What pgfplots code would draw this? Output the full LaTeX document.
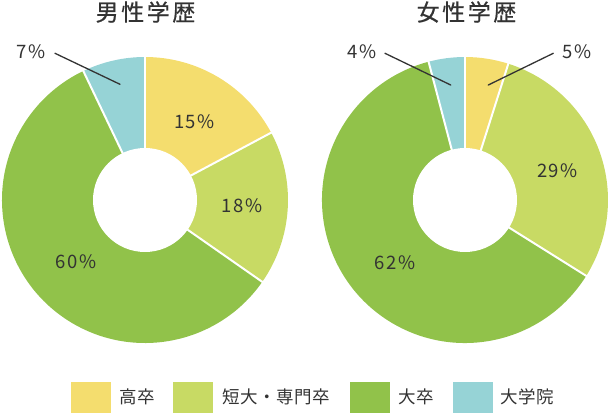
\documentclass[border=0pt]{standalone}
\usepackage{pgfplots}
\usepackage{pgfplotstable}
\pgfplotsset{compat=1.18}
\usepackage{fontspec}
\setmainfont{Noto Sans CJK JP}
\newfontfamily\titlefont{Noto Sans CJK JP}[FakeBold=0.6,LetterSpace=11]
\newfontfamily\numfont{Noto Sans CJK JP}[LetterSpace=7]
\newfontfamily\legfont{Noto Sans CJK JP}[LetterSpace=3]
\definecolor{slice0}{RGB}{244,221,110}
\definecolor{slice1}{RGB}{200,218,100}
\definecolor{slice2}{RGB}{145,194,74}
\definecolor{slice3}{RGB}{150,211,214}
\definecolor{txt}{RGB}{51,51,51}

% shares as drawn (angle of each slice, % of circle), label = printed value
\pgfplotstableread{
share label
17.2 15
17.5 18
58.2 60
7.1 7
}\mentable
\pgfplotstableread{
share label
4.9 5
29.0 29
62.0 62
4.1 4
}\womentable

\newcommand\donut[3]{%
  \pgfplotstablegetrowsof{#3}%
  \pgfmathtruncatemacro\lastrow{\pgfplotsretval-1}%
  \gdef\cum{0}%
  \foreach \i in {0,...,\lastrow}{%
    \pgfplotstablegetelem{\i}{share}\of{#3}%
    \pgfmathsetmacro\sa{90-3.6*\cum}%
    \pgfmathsetmacro\newcum{\cum+\pgfplotsretval}%
    \xdef\cum{\newcum}%
    \pgfmathsetmacro\ea{90-3.6*\cum}%
    \fill[slice\i] (axis cs:#1,#2) -- (axis cs:{#1+143*cos(\sa)},{#2+143*sin(\sa)})
      arc[start angle=\sa,end angle=\ea,radius=143bp] -- cycle;
  }%
  \gdef\cum{0}%
  \foreach \i in {0,...,\lastrow}{%
    \pgfmathsetmacro\sa{90-3.6*\cum}%
    \draw[white,line width=2bp] (axis cs:#1,#2) -- (axis cs:{#1+144*cos(\sa)},{#2+144*sin(\sa)});
    \pgfplotstablegetelem{\i}{share}\of{#3}%
    \pgfmathsetmacro\newcum{\cum+\pgfplotsretval}%
    \xdef\cum{\newcum}%
  }%
  \fill[white] (axis cs:#1,#2) circle[radius=52bp];
}

\begin{document}
\begin{tikzpicture}
\begin{axis}[
  x=1bp, y=1bp, xmin=0, xmax=610, ymin=0, ymax=415,
  scale only axis, hide axis, clip=false,
]
\pgfplotsextra{%
  \donut{145}{215}{\mentable}%
  \donut{465}{215}{\womentable}%
}
% titles
\node[txt,font=\titlefont\fontsize{23bp}{26bp}\selectfont] at (axis cs:145.5,403) {男性学歴};
\node[txt,font=\titlefont\fontsize{23bp}{26bp}\selectfont] at (axis cs:466.5,403) {女性学歴};
% value labels
\begin{scope}[every node/.style={txt,font=\numfont\fontsize{18.5bp}{20bp}\selectfont}]
\node at (axis cs:194.5,293) {15\%};
\node at (axis cs:242,209) {18\%};
\node at (axis cs:76,153) {60\%};
\node at (axis cs:31,363.5) {7\%};
\node at (axis cs:557.5,244) {29\%};
\node at (axis cs:395,152.5) {62\%};
\node at (axis cs:577,363) {5\%};
\node at (axis cs:362,363) {4\%};
\end{scope}
% leader lines
\draw[txt,line width=1.3bp,line cap=round] (axis cs:55,361.7) -- (axis cs:120,330.7);
\draw[txt,line width=1.3bp,line cap=round] (axis cs:553.3,361.7) -- (axis cs:488.3,330);
\draw[txt,line width=1.3bp,line cap=round] (axis cs:385,361.7) -- (axis cs:450.7,330);
% legend
\fill[slice0] (axis cs:71,2) rectangle (axis cs:111,33);
\fill[slice1] (axis cs:173,2) rectangle (axis cs:213,33);
\fill[slice2] (axis cs:350,2) rectangle (axis cs:390,33);
\fill[slice3] (axis cs:453,2) rectangle (axis cs:493,33);
\begin{scope}[every node/.style={txt,anchor=west,inner sep=0pt,font=\legfont\fontsize{17.5bp}{20bp}\selectfont}]
\node at (axis cs:119,18) {高卒};
\node at (axis cs:222,18) {短大・専門卒};
\node at (axis cs:398,18) {大卒};
\node at (axis cs:500,18) {大学院};
\end{scope}
\end{axis}
\pgfresetboundingbox
\path[use as bounding box] (0,0) rectangle (610bp,415bp);
\end{tikzpicture}
\end{document}
